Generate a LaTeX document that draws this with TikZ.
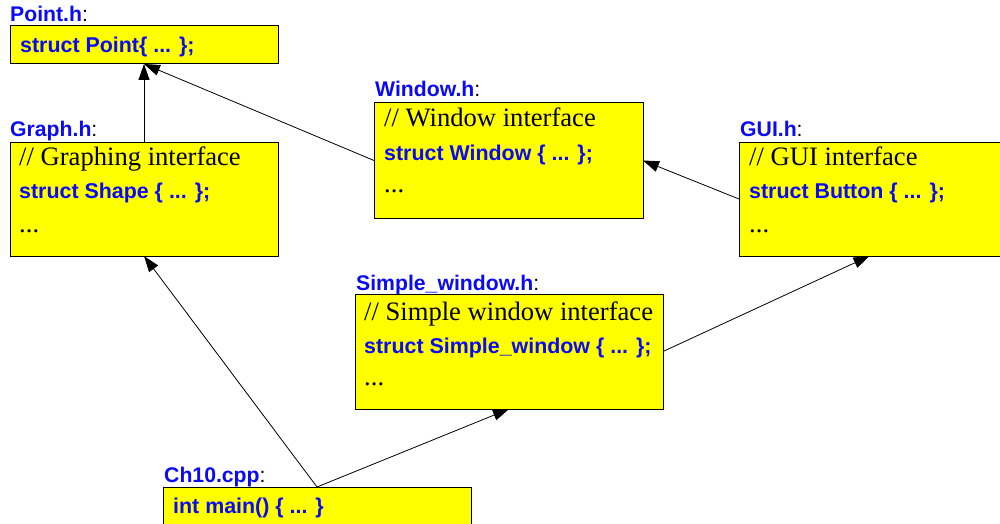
\documentclass[tikz,border=0pt]{standalone}
\usepackage{fontspec}
\setmainfont{Liberation Serif}
\setsansfont{Liberation Sans}
\usetikzlibrary{arrows.meta}
\definecolor{boxyellow}{RGB}{255,255,0}
\definecolor{codeblue}{RGB}{10,10,245}
\begin{document}
\begin{tikzpicture}[x=1pt,y=-1pt,
  filebox/.style={draw=black, line width=1pt, fill=boxyellow, rectangle, anchor=north west, inner sep=0pt, outer sep=0pt},
  codetxt/.style={anchor=base west, inner sep=0pt, text=codeblue, font=\sffamily\bfseries\fontsize{21.4}{25}\selectfont},
  cmttxt/.style={anchor=base west, inner sep=0pt, text=black, font=\rmfamily\fontsize{26.6}{30}\selectfont},
  fname/.style={anchor=base west, inner sep=0pt, font=\sffamily\fontsize{21.2}{25}\selectfont},
  dep/.style={draw=black, line width=0.8pt, -{Triangle[length=16pt,width=11pt]}}
]
\useasboundingbox (0,0) rectangle (1000,524);
\clip (0,0) rectangle (1000,524);

% Point.h
\node[fname] (pointlbl) at (10,22) {\textcolor{codeblue}{\bfseries Point.h}:};
\node[filebox, minimum width=268pt, minimum height=38pt] (point) at (10,26) {};
\node[codetxt] (pointt1) at (20,53) {struct Point\{ ... \};};

% Graph.h
\node[fname] (graphlbl) at (10,136) {\textcolor{codeblue}{\bfseries Graph.h}:};
\node[filebox, minimum width=268pt, minimum height=114pt] (graph) at (10,142) {};
\node[cmttxt] (grapht1) at (19,165) {// Graphing interface};
\node[codetxt] (grapht2) at (19,198) {struct Shape \{ ... \};};
\node[cmttxt] (grapht3) at (19,232) {...};

% Window.h
\node[fname] (winlbl) at (375,97) {\textcolor{codeblue}{\bfseries Window.h}:};
\node[filebox, minimum width=269pt, minimum height=115pt] (window) at (374,103) {};
\node[cmttxt] (wint1) at (384,127) {// Window interface};
\node[codetxt] (wint2) at (384,160) {struct Window \{ ... \};};
\node[cmttxt] (wint3) at (384,192) {...};

% GUI.h
\node[fname] (guilbl) at (740,136) {\textcolor{codeblue}{\bfseries GUI.h}:};
\node[filebox, minimum width=261pt, minimum height=114pt] (gui) at (739,142) {};
\node[cmttxt] (guit1) at (749,165) {// GUI interface};
\node[codetxt] (guit2) at (749,198) {struct Button \{ ... \};};
\node[cmttxt] (guit3) at (749,232) {...};

% Simple_window.h
\node[fname] (swlbl) at (356,290) {\textcolor{codeblue}{\bfseries Simple\_window.h}:};
\node[filebox, minimum width=308pt, minimum height=115pt] (sw) at (355,294) {};
\node[cmttxt] (swt1) at (364,320) {// Simple window interface};
\node[codetxt] (swt2) at (364,353) {struct Simple\_window \{ ... \};};
\node[cmttxt] (swt3) at (364,385) {...};

% Ch10.cpp
\node[fname] (cpplbl) at (164,482) {\textcolor{codeblue}{\bfseries Ch10.cpp}:};
\node[filebox, minimum width=308pt, minimum height=60pt] (cpp) at (163,487) {};
\node[codetxt] (cppt1) at (173,513) {int main() \{ ... \}};

% dependencies
\draw[dep] (graph.north) -- (point.south);
\draw[dep] (window.west) -- (point.south);
\draw[dep] (gui.west) -- (window.east);
\draw[dep] (sw.east) -- (gui.south);
\draw[dep] (cpp.north) -- (graph.south);
\draw[dep] (cpp.north) -- (sw.south);
\end{tikzpicture}
\end{document}
